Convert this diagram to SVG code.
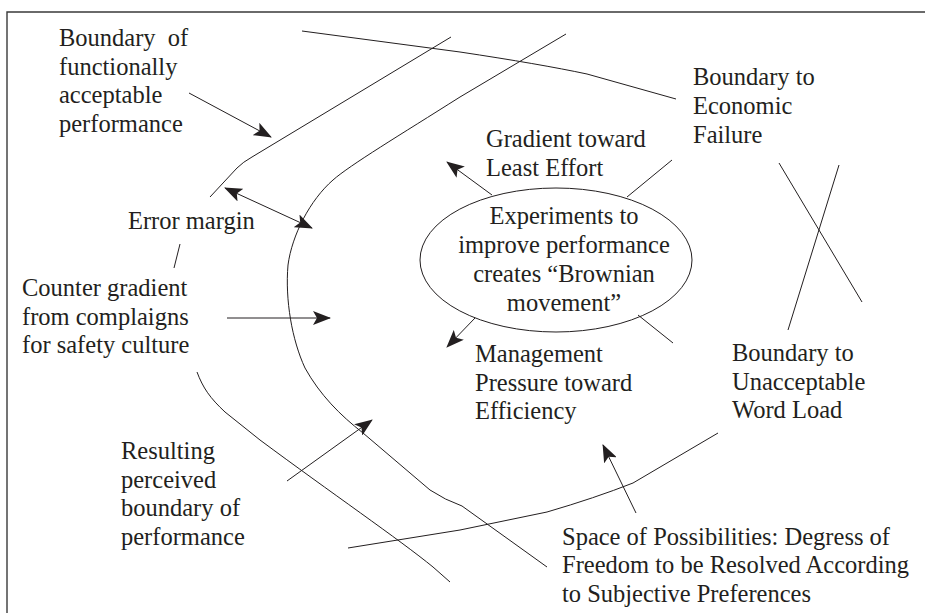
<svg xmlns="http://www.w3.org/2000/svg" width="925" height="613" viewBox="0 0 925 613" font-family="'Liberation Serif', 'DejaVu Serif', serif">
<defs>
<style>
text{font-family:'Liberation Serif','DejaVu Serif',serif;font-size:24.5px;fill:#231f20}
.ln{fill:none;stroke:#231f20;stroke-width:1}
.ar{fill:none;stroke:#231f20;stroke-width:1;marker-end:url(#ah)}
.mid{text-anchor:middle}
</style>
<marker id="ah" viewBox="0 0 18 14" refX="17" refY="7" markerWidth="18" markerHeight="14" orient="auto-start-reverse" markerUnits="userSpaceOnUse">
<path d="M0,0 L18,7 L0,14 L4,7 z" fill="#231f20"/>
</marker>
</defs>
<rect width="925" height="613" fill="#fff"/>
<path d="M7,613 L7,12 L925,12" fill="none" stroke="#3a3a3a" stroke-width="1.4"/>

<g id="boundaries">
<path id="functional-boundary" class="ln" d="M210,197 L237,168 Q243,162 252,157 L451,37"/>
<path id="functional-boundary-mid" class="ln" d="M180,244 L174,268"/>
<path id="functional-boundary-low" class="ln" d="M197,372 C203,388 210,398 225,412 L260,440 C330,492 400,540 433,567 L450,582"/>
<path id="perceived-boundary" class="ln" d="M566,34 L460,97 C400,135 350,165 333,180 C310,200 292,235 288,265 C285,300 292,340 305,368 C320,395 340,415 363,433 L430,490 Q445,500 462,506 L547,567"/>
<path id="economic-boundary" class="ln" d="M302,31 L460,52 Q540,64 587,74 L676,99"/>
<path id="workload-boundary-a" class="ln" d="M779,163 L862,302"/>
<path id="workload-boundary-b" class="ln" d="M839,165 L788,330"/>
<path id="workload-boundary-c" class="ln" d="M348,548 L460,530 L547,512 Q595,498 633,483 L718,433"/>
</g>

<g id="connectors">
<path class="ln" d="M672,160 L627,197"/>
<path class="ln" d="M638,315 L673,343"/>
<path class="ar" d="M189,93 L271,137"/>
<path class="ar" style="marker-start:url(#ah)" d="M225,188 L312,228"/>
<path class="ar" d="M492,195 L447,162"/>
<path class="ar" d="M475,318 L447,347"/>
<path class="ar" d="M227,318 L330,318"/>
<path class="ar" d="M287,481 L372,420"/>
<path class="ar" d="M636,513 L603,445"/>
</g>

<g id="node-brownian">
<ellipse cx="556" cy="260" rx="136" ry="72" class="ln"/>
<text class="mid" x="564" y="224">Experiments to</text>
<text class="mid" x="564" y="253">improve performance</text>
<text class="mid" x="564" y="282">creates “Brownian</text>
<text class="mid" x="564" y="311">movement”</text>
</g>

<g id="label-functional">
<text x="59" y="46" word-spacing="6">Boundary of</text>
<text x="59" y="75">functionally</text>
<text x="59" y="103">acceptable</text>
<text x="59" y="132">performance</text>
</g>
<g id="label-error"><text x="128" y="229">Error margin</text></g>
<g id="label-counter">
<text x="22" y="296">Counter gradient</text>
<text x="22" y="325">from complaigns</text>
<text x="22" y="353">for safety culture</text>
</g>
<g id="label-resulting">
<text x="121" y="459">Resulting</text>
<text x="121" y="488">perceived</text>
<text x="121" y="516">boundary of</text>
<text x="121" y="545">performance</text>
</g>
<g id="label-economic">
<text x="693" y="85">Boundary to</text>
<text x="693" y="114">Economic</text>
<text x="693" y="143">Failure</text>
</g>
<g id="label-gradient">
<text x="486" y="147">Gradient toward</text>
<text x="486" y="176">Least Effort</text>
</g>
<g id="label-management">
<text x="475" y="362">Management</text>
<text x="475" y="391">Pressure toward</text>
<text x="475" y="419">Efficiency</text>
</g>
<g id="label-workload">
<text x="732" y="361">Boundary to</text>
<text x="732" y="390">Unacceptable</text>
<text x="732" y="418">Word Load</text>
</g>
<g id="label-space">
<text x="562" y="545">Space of Possibilities: Degress of</text>
<text x="562" y="573">Freedom to be Resolved According</text>
<text x="562" y="602">to Subjective Preferences</text>
</g>
</svg>
